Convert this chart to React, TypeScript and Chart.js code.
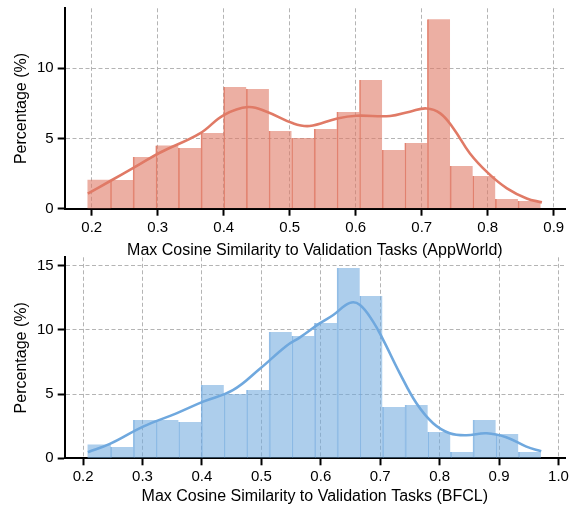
import React, { useEffect, useRef } from "react";
import { Chart, registerables } from "chart.js";

Chart.register(...registerables);

// ---------- Top chart (AppWorld) ----------
const appBinStart = 0.194;
const appBinWidth = 0.0343;
const appHist = [2.04, 2.04, 3.67, 4.5, 4.31, 5.38, 8.65, 8.51, 5.52, 5.02, 5.66, 6.87, 9.15, 4.17, 4.67, 13.48, 3.03, 2.32, 0.69, 0.55];
const appKdeX = [0.194, 0.228, 0.265, 0.303, 0.364, 0.4, 0.437, 0.465, 0.505, 0.53, 0.572, 0.601, 0.652, 0.682, 0.707, 0.728, 0.748, 0.773, 0.801, 0.829, 0.859, 0.882];
const appKdeY = [1.07, 1.97, 2.95, 3.98, 5.36, 6.66, 7.23, 6.9, 6.07, 5.88, 6.42, 6.61, 6.59, 6.9, 7.13, 6.78, 5.71, 3.93, 2.51, 1.45, 0.73, 0.45];
const appXTicks = [0.2, 0.3, 0.4, 0.5, 0.6, 0.7, 0.8, 0.9];
const appYTicks = [0, 5, 10];

// ---------- Bottom chart (BFCL) ----------
const bfclBinStart = 0.208;
const bfclBinWidth = 0.038125;
const bfclHist = [1.04, 0.88, 2.99, 2.99, 2.83, 5.71, 5.01, 5.32, 9.84, 9.53, 10.54, 14.82, 12.64, 4.0, 4.15, 2.05, 0.49, 2.99, 1.9, 0.49];
const bfclKdeX = [0.208, 0.245, 0.301, 0.357, 0.402, 0.452, 0.497, 0.542, 0.565, 0.598, 0.621, 0.649, 0.666, 0.688, 0.705, 0.733, 0.761, 0.789, 0.817, 0.845, 0.879, 0.912, 0.946, 0.971];
const bfclKdeY = [0.47, 1.12, 2.47, 3.5, 4.41, 5.3, 6.95, 8.75, 9.42, 10.5, 11.16, 12.1, 11.94, 10.64, 9.22, 6.62, 4.28, 2.73, 1.95, 1.79, 1.95, 1.64, 0.91, 0.55];
const bfclXTicks = [0.2, 0.3, 0.4, 0.5, 0.6, 0.7, 0.8, 0.9, 1.0];
const bfclYTicks = [0, 5, 10, 15];

const FONT = "'Liberation Sans', Arial, Helvetica, sans-serif";

type Cfg = {
  binStart: number;
  binWidth: number;
  hist: number[];
  kdeX: number[];
  kdeY: number[];
  xTicks: number[];
  yTicks: number[];
  xMin: number;
  xMax: number;
  yMax: number;
  xTitle: string;
  line: string;
  fill: string;
  edge: string;
  padTop: number;
  xAxisHeight: number;
  titleBottomPad: number;
};

function HistChart({ cfg, width, height }: { cfg: Cfg; width: number; height: number }) {
  const ref = useRef<HTMLCanvasElement>(null);
  useEffect(() => {
    if (!ref.current) return;
    const bars = cfg.hist.map((v, i) => ({ x: cfg.binStart + (i + 0.5) * cfg.binWidth, y: v }));
    const kde = cfg.kdeX.map((x, i) => ({ x, y: cfg.kdeY[i] }));
    const chart = new Chart(ref.current, {
      type: "bar",
      data: {
        datasets: [
          {
            type: "line",
            data: kde,
            borderColor: cfg.line,
            borderWidth: 2.6,
            pointRadius: 0,
            tension: 0.4,
            fill: false,
            order: 0,
          } as any,
          {
            type: "bar",
            data: bars,
            backgroundColor: cfg.fill,
            borderColor: cfg.edge,
            borderWidth: (c: any) => (c.dataIndex === 0 ? 0 : { left: 1, top: 0, right: 0, bottom: 0 }),
            borderSkipped: false,
            barPercentage: 1,
            categoryPercentage: 1,
            order: 1,
          } as any,
        ],
      },
      options: {
        animation: false,
        responsive: false,
        events: [],
        layout: { padding: { top: cfg.padTop, right: 9, left: 0, bottom: 0 } },
        plugins: { legend: { display: false }, tooltip: { enabled: false } },
        scales: {
          x: {
            type: "linear",
            min: cfg.xMin,
            max: cfg.xMax,
            offset: false,
            afterBuildTicks: (s: any) => {
              s.ticks = cfg.xTicks.map((v) => ({ value: v }));
            },
            afterFit: (s: any) => {
              s.height = cfg.xAxisHeight;
              s.paddingLeft = 0;
              s.paddingRight = 0;
            },
            grid: {
              offset: false,
              color: "#b4b4b4",
              lineWidth: 1,
              drawTicks: true,
              tickLength: 7,
              tickColor: "#000",
              tickWidth: 2,
            },
            border: { display: true, color: "#000", width: 2, dash: [4, 2.5] },
            ticks: {
              color: "#000",
              font: { family: FONT, size: 15 },
              padding: 3,
              maxRotation: 0,
              autoSkip: false,
              callback: (v: any) => Number(v).toFixed(1),
            },
            title: {
              display: true,
              text: cfg.xTitle,
              color: "#000",
              font: { family: FONT, size: 16 },
              padding: { top: 2, bottom: cfg.titleBottomPad },
            },
          },
          y: {
            type: "linear",
            min: 0,
            max: cfg.yMax,
            afterBuildTicks: (s: any) => {
              s.ticks = cfg.yTicks.map((v) => ({ value: v }));
            },
            afterFit: (s: any) => {
              s.width = 64.7;
              s.paddingTop = 0;
              s.paddingBottom = 0;
            },
            grid: {
              color: "#b4b4b4",
              lineWidth: 1,
              drawTicks: true,
              tickLength: 7,
              tickColor: "#000",
              tickWidth: 2,
            },
            border: { display: true, color: "#000", width: 2, dash: [4, 2.5] },
            ticks: {
              color: "#000",
              font: { family: FONT, size: 15 },
              padding: 4,
              autoSkip: false,
              callback: (v: any) => String(v),
            },
            title: {
              display: true,
              text: "Percentage (%)",
              color: "#000",
              font: { family: FONT, size: 16 },
              padding: { top: 12, bottom: 0 },
            },
          },
        },
      },
    });
    return () => chart.destroy();
  }, [cfg]);
  return <canvas ref={ref} width={width} height={height} style={{ width, height, display: "block" }} />;
}

const topCfg: Cfg = {
  binStart: appBinStart,
  binWidth: appBinWidth,
  hist: appHist,
  kdeX: appKdeX,
  kdeY: appKdeY,
  xTicks: appXTicks,
  yTicks: appYTicks,
  xMin: 0.159,
  xMax: 0.917,
  yMax: 14.25,
  xTitle: "Max Cosine Similarity to Validation Tasks (AppWorld)",
  line: "rgb(224,122,102)",
  fill: "rgba(224,122,102,0.6)",
  edge: "rgba(224,122,102,0.9)",
  padTop: 8.3,
  xAxisHeight: 265 - 208.7,
  titleBottomPad: 5,
};

const bottomCfg: Cfg = {
  binStart: bfclBinStart,
  binWidth: bfclBinWidth,
  hist: bfclHist,
  kdeX: bfclKdeX,
  kdeY: bfclKdeY,
  xTicks: bfclXTicks,
  yTicks: bfclYTicks,
  xMin: 0.169,
  xMax: 1.011,
  yMax: 15.65,
  xTitle: "Max Cosine Similarity to Validation Tasks (BFCL)",
  line: "rgb(111,168,222)",
  fill: "rgba(111,168,222,0.57)",
  edge: "rgba(111,168,222,0.7)",
  padTop: 257.3 - 240,
  xAxisHeight: 266 - 218.3,
  titleBottomPad: 0,
};

export default function App() {
  return (
    <div style={{ position: "absolute", left: 0, top: 0, width: 574, height: 506, background: "#fff" }}>
      <div style={{ position: "absolute", left: 0, top: 0 }}>
        <HistChart cfg={topCfg} width={574} height={265} />
      </div>
      <div style={{ position: "absolute", left: 0, top: 240 }}>
        <HistChart cfg={bottomCfg} width={574} height={266} />
      </div>
    </div>
  );
}
